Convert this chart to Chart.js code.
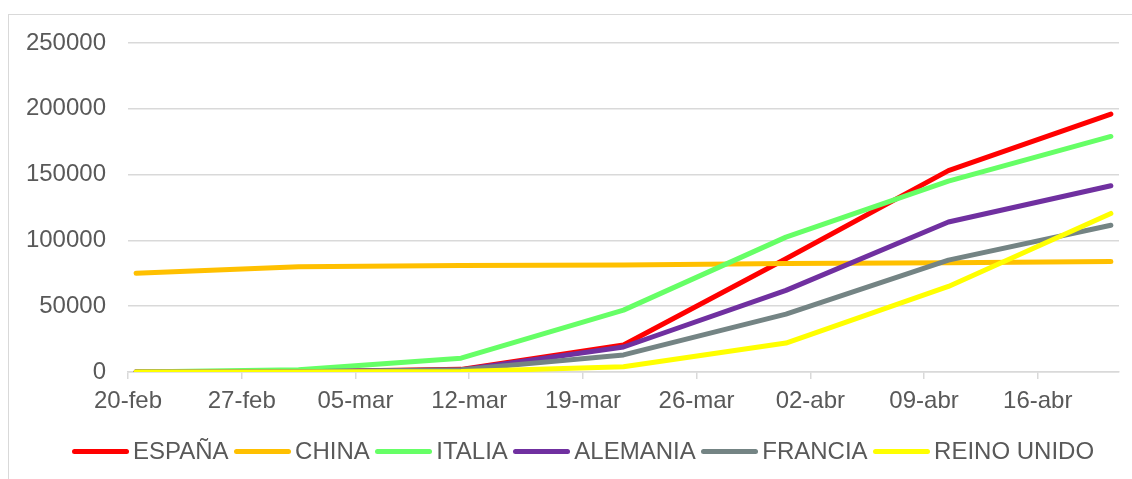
<!DOCTYPE html>
<html>
<head>
<meta charset="utf-8">
<script src="https://cdn.jsdelivr.net/npm/chart.js@4"></script>
<style>
    body { margin: 0; background: #fff; font-family: "Liberation Sans", Arial, sans-serif; }
    #marco {
        position: absolute; left: 8px; top: 14px;
        width: 1124px; height: 465px;
        border-left: 1px solid #d9d9d9; border-top: 1px solid #d9d9d9;
    }
    #leyenda {
        position: absolute; left: 72px; top: 437px; height: 28px;
        display: flex; align-items: center;
        font-size: 24px; color: #595959; white-space: nowrap;
    }
    #leyenda .linea { width: 57px; height: 5px; border-radius: 2.5px; margin-right: 4px; }
    #leyenda .texto { margin-right: 5.5px; }
</style>
</head>
<body>
<div id="marco"><canvas id="myChart"></canvas></div>
<div id="leyenda"></div>
<script>
// casos confirmados, cada 10 días
const fechas = ['2020-02-20', '2020-03-01', '2020-03-11', '2020-03-21', '2020-03-31', '2020-04-10', '2020-04-20'];
const etiquetasX = ['20-feb', '27-feb', '05-mar', '12-mar', '19-mar', '26-mar', '02-abr', '09-abr', '16-abr'];

const espana = [0, 100, 2000, 20500, 86000, 153000, 196000];
const china = [75000, 80000, 81000, 81300, 82500, 83000, 84000];
const italia = [0, 1700, 10500, 47000, 102500, 145000, 179000];
const alemania = [0, 100, 1500, 19000, 62000, 114000, 141500];
const francia = [0, 100, 1800, 13000, 44000, 85000, 111500];
const reinoUnido = [0, 30, 400, 4000, 22000, 65000, 120500];

const series = [
    { label: 'ESPAÑA', data: espana, color: '#FF0000' },
    { label: 'CHINA', data: china, color: '#FFC000' },
    { label: 'ITALIA', data: italia, color: '#66FF66' },
    { label: 'ALEMANIA', data: alemania, color: '#7030A0' },
    { label: 'FRANCIA', data: francia, color: '#748484' },
    { label: 'REINO UNIDO', data: reinoUnido, color: '#FFFF00' },
];

// eje de fechas: cada día ocupa una casilla y el punto va en su centro
const inicio = Date.parse(fechas[0]);
const dias = fechas.map(f => Math.round((Date.parse(f) - inicio) / 86400000) + 0.5);

const gris = '#595959';
const rejilla = '#d9d9d9';
Chart.defaults.font.family = '"Liberation Sans", Arial, sans-serif';
Chart.defaults.font.size = 24;
Chart.defaults.color = gris;

const ctx = document.getElementById('myChart');

const chart = new Chart(ctx, {
    type: 'line',
    data: {
        datasets: series.map((s, i) => ({
            label: s.label,
            data: s.data.map((v, j) => ({ x: dias[j], y: v })),
            borderColor: s.color,
            backgroundColor: s.color,
            borderWidth: 5,
            borderCapStyle: 'round',
            borderJoinStyle: 'round',
            pointRadius: 0,
            tension: 0,
            // las últimas series quedan encima
            order: series.length - i
        }))
    },
    options: {
        responsive: true,
        maintainAspectRatio: false,
        animation: false,
        layout: { padding: { top: 28, right: 14, left: 0, bottom: 66 } },
        scales: {
            x: {
                type: 'linear',
                min: 0,
                max: 61,
                afterBuildTicks: (scale) => {
                    scale.ticks = etiquetasX.map((_, i) => ({ value: i * 7 }));
                },
                afterFit: (scale) => {
                    scale.height = 42;
                    scale.paddingLeft = 0;
                    scale.paddingRight = 0;
                },
                ticks: {
                    padding: 8,
                    maxRotation: 0,
                    autoSkip: false,
                    callback: (value) => etiquetasX[Math.round(value / 7)]
                },
                grid: { drawOnChartArea: false, tickColor: rejilla, tickLength: 7, lineWidth: 1.5 },
                border: { color: rejilla, width: 1.5 }
            },
            y: {
                min: 0,
                max: 250000,
                afterFit: (scale) => {
                    scale.width = 119;
                    scale.paddingTop = 0;
                    scale.paddingBottom = 0;
                },
                ticks: { stepSize: 50000, padding: 22, callback: (value) => String(value) },
                grid: { color: rejilla, lineWidth: 1.5, drawTicks: false },
                border: { display: false }
            }
        },
        plugins: {
            legend: { display: false },
            tooltip: { enabled: false }
        }
    }
});

// leyenda en HTML a partir de las series del gráfico
const leyenda = document.getElementById('leyenda');
chart.data.datasets.forEach(ds => {
    const linea = document.createElement('span');
    linea.className = 'linea';
    linea.style.background = ds.borderColor;
    const texto = document.createElement('span');
    texto.className = 'texto';
    texto.textContent = ds.label;
    leyenda.append(linea, texto);
});
</script>
</body>
</html>
